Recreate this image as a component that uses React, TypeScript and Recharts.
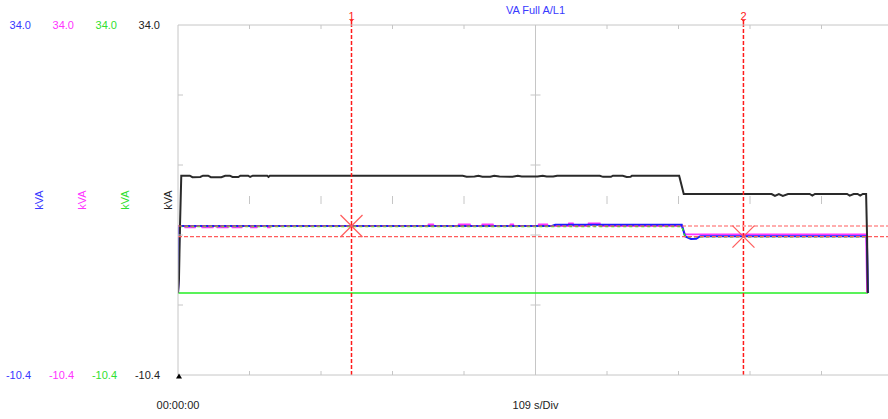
import React from 'react';
import { LineChart, Line, XAxis, YAxis, ReferenceLine, ReferenceDot } from 'recharts';

const FONT = '"Liberation Sans", Arial, sans-serif';

// Recorded apparent power, as [seconds, kVA] pairs
const traceBlack: [number, number][] = [
  [0, 0], [1.5, 1.8], [3, 8.4], [5, 14.88],
  [18, 14.88], [22, 14.7], [34, 14.72], [38, 14.88], [46, 14.88], [50, 14.7], [66, 14.7], [72, 14.88],
  [79, 14.88], [83, 14.72], [92, 14.72], [95, 14.88], [107, 14.88], [110, 14.72], [114, 14.88],
  [136, 14.88], [138, 14.72], [140, 14.88],
  [434, 14.88], [440, 14.76], [452, 14.78], [458, 14.88], [464, 14.76], [476, 14.75], [482, 14.88],
  [490, 14.77], [510, 14.76], [518, 14.88], [524, 14.78], [548, 14.78], [556, 14.88], [562, 14.77],
  [572, 14.77], [578, 14.88], [643, 14.88], [648, 14.74], [660, 14.74], [663, 14.88],
  [678, 14.88], [684, 14.72], [690, 14.74], [692, 14.88],
  [764, 14.88], [771, 12.56],
  [905, 12.56], [910, 12.32], [916, 12.56], [922, 12.32], [930, 12.56], [963, 12.56], [967, 12.36],
  [971, 12.56], [1020, 12.56], [1024, 12.36], [1030, 12.56], [1036, 12.56], [1040, 12.36],
  [1044, 12.56], [1049, 12.56], [1050.5, 7], [1051.5, 0],
];

const traceBlue: [number, number][] = [
  [0, 0], [1, 2], [2, 8.5], [570, 8.5], [575, 8.65], [768, 8.65], [773, 7.2], [778, 7.0],
  [782, 6.85], [790, 6.88], [795, 7.15], [797, 7.2], [1050, 7.2], [1052, 0],
];

const traceMagenta: [number, number][] = [
  [0, 0], [1, 2], [2, 8.5], [10, 8.5], [11, 8.32], [26, 8.32], [27, 8.5], [36, 8.5], [37, 8.32],
  [53, 8.32], [54, 8.5], [59, 8.5], [60, 8.32], [76, 8.32], [77, 8.5], [82, 8.5], [83, 8.32],
  [97, 8.32], [98, 8.5], [110, 8.5], [111, 8.32], [120, 8.32], [121, 8.5], [136, 8.5], [137, 8.32],
  [140, 8.32], [141, 8.5],
  [381, 8.5], [382, 8.7], [389, 8.7], [390, 8.5], [427, 8.5], [428, 8.7], [445, 8.7],
  [446, 8.5], [463, 8.5], [464, 8.7], [480, 8.7], [481, 8.5], [506, 8.5], [507, 8.7],
  [511, 8.7], [512, 8.5], [549, 8.5], [550, 8.7], [563, 8.7], [564, 8.5], [595, 8.5],
  [596, 8.82], [602, 8.82], [603, 8.5], [625, 8.5], [626, 8.82], [643, 8.82], [644, 8.5],
  [768, 8.5], [773, 7.45], [1049, 7.45], [1050.5, 0],
];

const traceGreen: [number, number][] = [
  [2, 8.45], [768, 8.45], [773, 7.15], [1050, 7.15],
];

const traceGreenLow: [number, number][] = [
  [0, 0], [1052, 0],
];

// Axis setup
const levelDomain: [number, number] = [-10.4, 34];
const levelTicks = [-10.4, 34];
const levelDivisions = [25.12, 16.24, 7.36, -1.52];
const levelCenter = 11.8;
const timeDomain: [number, number] = [0, 1090];
const timeDivisions = [109, 218, 327, 436, 545, 654, 763, 872, 981];
const timeCenter = 545;
const timeTicks = [0];
const timeTickLabels = ['00:00:00'];
const scaleText = '109 s/Div';
const unitText = 'kVA';
const titleText = 'VA Full A/L1';

// Cursors
const cursorTimes = [264.5, 862];
const cursorLevels = [8.5, 7.15];
const cursorNames = ['1', '2'];

const GRID = '#c6c6c6';
const CURSOR = '#ff1a1a';
const CURSOR_SOFT = '#ff5c5c';

const toPoints = (arr: [number, number][]) => arr.map(([t, v]) => ({ t, v }));

// Left-side scales, nearest to the plot first
const channels = [
  { id: 'c0', text: '#222222', width: 43 },
  { id: 'c1', text: '#2fe02f', width: 43 },
  { id: 'c2', text: '#ff33ff', width: 43 },
  { id: 'c3', text: '#3838ff', width: 49 },
];

const unitLabel = (color: string) => (props: any) => {
  const vb = props.viewBox || {};
  const x = vb.x + vb.width - 6.3;
  const y = vb.y + vb.height / 2;
  return (
    <text x={x} y={y} transform={`rotate(-90 ${x} ${y})`} textAnchor="middle" fill={color} fontSize={11} fontFamily={FONT}>
      {unitText}
    </text>
  );
};

const scaleLabel = (props: any) => {
  const vb = props.viewBox || {};
  return (
    <text x={vb.x + vb.width / 2} y={409} textAnchor="middle" fill="#222" fontSize={11} fontFamily={FONT}>
      {scaleText}
    </text>
  );
};

const titleLabel = (props: any) => {
  const vb = props.viewBox || {};
  return (
    <text x={vb.x + vb.width / 2} y={14} textAnchor="middle" fill="#3a3aff" fontSize={11} fontFamily={FONT}>
      {titleText}
    </text>
  );
};

const cursorTag = (name: string) => (props: any) => {
  const vb = props.viewBox || {};
  const x = vb.x;
  const top = vb.y;
  return (
    <g>
      <text x={x} y={top - 5.5} textAnchor="middle" fill={CURSOR} fontSize={11} fontFamily={FONT}>
        {name}
      </text>
      <path d={`M${x - 1.5},${top - 5} L${x + 1.5},${top - 5} L${x},${top - 2} Z`} fill={CURSOR} />
      <line x1={x} x2={x} y1={top - 3} y2={top} stroke={CURSOR} strokeWidth={1.5} />
    </g>
  );
};

const crossMark = (p: any) => (
  <g stroke={CURSOR_SOFT} strokeWidth={1.2}>
    <line x1={p.cx - 11} y1={p.cy - 11} x2={p.cx + 11} y2={p.cy + 11} />
    <line x1={p.cx - 11} y1={p.cy + 11} x2={p.cx + 11} y2={p.cy - 11} />
  </g>
);

const tickDown = (p: any) => <line x1={p.cx} x2={p.cx} y1={p.cy} y2={p.cy + 4} stroke={GRID} />;
const tickUp = (p: any) => <line x1={p.cx} x2={p.cx} y1={p.cy - 4} y2={p.cy} stroke={GRID} />;
const tickRight = (p: any) => <line x1={p.cx} x2={p.cx + 5} y1={p.cy} y2={p.cy} stroke={GRID} />;
const tickVert = (p: any) => <line x1={p.cx} x2={p.cx} y1={p.cy - 4} y2={p.cy + 4} stroke={GRID} />;
const tickHorz = (p: any) => <line x1={p.cx - 5} x2={p.cx + 5} y1={p.cy} y2={p.cy} stroke={GRID} />;
const zeroMarker = (p: any) => (
  <path d={`M${p.cx - 2},${p.cy + 3.5} L${p.cx + 1},${p.cy - 1.5} L${p.cx + 4},${p.cy + 3.5} Z`} fill="#000" />
);

export default function App() {
  const fmt = (v: number) => v.toFixed(1);
  return (
    <div style={{ position: 'absolute', left: 0, top: 0, width: 888, height: 419, overflow: 'hidden', background: '#fff' }}>
      <LineChart width={893} height={419} margin={{ top: 0, right: 0, bottom: 0, left: 0 }}>
        <XAxis
          xAxisId="t"
          dataKey="t"
          type="number"
          domain={timeDomain}
          allowDataOverflow
          ticks={timeTicks}
          interval={0}
          tickFormatter={(v: number) => timeTickLabels[timeTicks.indexOf(v)] ?? ''}
          tickSize={0}
          tickMargin={26}
          tickLine={false}
          height={44}
          axisLine={{ stroke: GRID }}
          tick={{ fill: '#222', fontSize: 11, fontFamily: FONT }}
          label={scaleLabel}
        />
        <XAxis
          xAxisId="top"
          orientation="top"
          type="number"
          domain={timeDomain}
          allowDataOverflow
          height={25}
          tick={false}
          tickLine={false}
          axisLine={{ stroke: GRID }}
          label={titleLabel}
        />
        {channels.map((c) => (
          <YAxis
            key={c.id}
            yAxisId={c.id}
            orientation="left"
            type="number"
            width={c.width}
            domain={levelDomain}
            allowDataOverflow
            ticks={levelTicks}
            interval={0}
            tickFormatter={fmt}
            tickSize={0}
            tickMargin={18}
            tickLine={false}
            axisLine={c.id === 'c0' ? { stroke: GRID } : false}
            tick={{ fill: c.text, fontSize: 11, fontFamily: FONT }}
            label={unitLabel(c.text)}
          />
        ))}

        <ReferenceLine xAxisId="t" yAxisId="c0" x={timeCenter} stroke={GRID} />

        {timeDivisions.map((t) => (
          <ReferenceDot key={`td${t}`} xAxisId="t" yAxisId="c0" x={t} y={levelDomain[1]} ifOverflow="visible" shape={tickDown} />
        ))}
        {timeDivisions.map((t) => (
          <ReferenceDot key={`tu${t}`} xAxisId="t" yAxisId="c0" x={t} y={levelDomain[0]} ifOverflow="visible" shape={tickUp} />
        ))}
        {timeDivisions.map((t) => (
          <ReferenceDot key={`tc${t}`} xAxisId="t" yAxisId="c0" x={t} y={levelCenter} ifOverflow="visible" shape={tickVert} />
        ))}
        {levelDivisions.map((v) => (
          <ReferenceDot key={`ll${v}`} xAxisId="t" yAxisId="c0" x={timeDomain[0]} y={v} ifOverflow="visible" shape={tickRight} />
        ))}
        {levelDivisions.map((v) => (
          <ReferenceDot key={`lc${v}`} xAxisId="t" yAxisId="c0" x={timeCenter} y={v} ifOverflow="visible" shape={tickHorz} />
        ))}

        <Line xAxisId="t" yAxisId="c1" data={toPoints(traceGreenLow)} dataKey="v" type="linear" stroke="#22ee22" strokeWidth={1.5} dot={false} activeDot={false} isAnimationActive={false} />
        <Line xAxisId="t" yAxisId="c2" data={toPoints(traceMagenta)} dataKey="v" type="linear" stroke="#ff33ff" strokeWidth={1.8} dot={false} activeDot={false} isAnimationActive={false} />
        <Line xAxisId="t" yAxisId="c3" data={toPoints(traceBlue)} dataKey="v" type="linear" stroke="#1c1cff" strokeWidth={2} dot={false} activeDot={false} isAnimationActive={false} />
        <Line xAxisId="t" yAxisId="c1" data={toPoints(traceGreen)} dataKey="v" type="linear" stroke="#22ee22" strokeWidth={1.5} strokeDasharray="3 3" dot={false} activeDot={false} isAnimationActive={false} />
        <Line xAxisId="t" yAxisId="c0" data={toPoints(traceBlack)} dataKey="v" type="linear" stroke="#2a2a2a" strokeWidth={2} dot={false} activeDot={false} isAnimationActive={false} />

        {cursorLevels.map((v, i) => (
          <ReferenceLine key={`ch${i}`} xAxisId="t" yAxisId="c0" y={v} stroke={CURSOR_SOFT} strokeWidth={1.2} strokeDasharray="4 2" />
        ))}
        {cursorTimes.map((t, i) => (
          <ReferenceLine key={`cv${i}`} xAxisId="t" yAxisId="c0" x={t} stroke={CURSOR} strokeWidth={1.5} strokeDasharray="4 2" label={cursorTag(cursorNames[i])} />
        ))}
        {cursorTimes.map((t, i) => (
          <ReferenceDot key={`cx${i}`} xAxisId="t" yAxisId="c0" x={t} y={cursorLevels[i]} ifOverflow="visible" shape={crossMark} />
        ))}
        <ReferenceDot xAxisId="t" yAxisId="c0" x={timeDomain[0]} y={levelDomain[0]} ifOverflow="visible" shape={zeroMarker} />
      </LineChart>
    </div>
  );
}
